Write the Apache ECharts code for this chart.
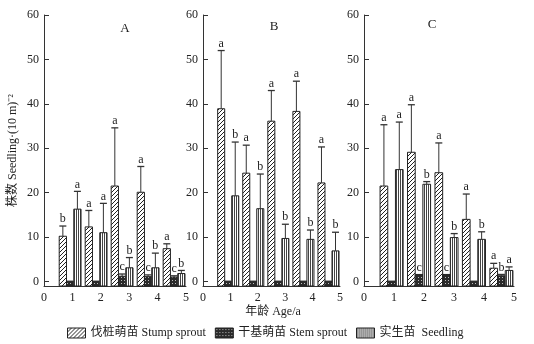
<!DOCTYPE html>
<html>
<head>
<meta charset="utf-8">
<script src="https://cdn.jsdelivr.net/npm/echarts@6/dist/echarts.min.js"></script>
<style>
  html, body { margin: 0; background: #fff; }
  #chart { width: 534px; height: 344px; }
</style>
</head>
<body>
<div id="chart"></div>
<script>
const ages = ['1', '2', '3', '4', '5']
const yTicks = [0, 10, 20, 30, 40, 50, 60]
const seriesNames = ['伐桩萌苗 Stump sprout', '干基萌苗 Stem sprout', '实生苗  Seedling']
const panelNames = ['A', 'B', 'C']

// panel A
const stumpA = [10.2, 12.3, 21.5, 20.1, 7.4]
const stumpASd = [2.3, 3.7, 13.1, 5.8, 1.1]
const stumpALetters = ['b', 'a', 'a', 'a', 'a']
const stemA = [0.1, 0.1, 1.2, 1.1, 1.0]
const stemASd = [0, 0, 0.5, 0.4, 0.3]
const stemALetters = ['', '', 'c', 'c', 'c']
const seedA = [16.3, 11.0, 3.1, 3.1, 1.8]
const seedASd = [4.0, 6.6, 2.3, 3.3, 0.7]
const seedALetters = ['a', 'a', 'b', 'b', 'b']

// panel B
const stumpB = [38.9, 24.4, 36.1, 38.3, 22.2]
const stumpBSd = [13.1, 6.3, 6.9, 6.8, 8.1]
const stumpBLetters = ['a', 'a', 'a', 'a', 'a']
const stemB = [0.1, 0.1, 0.1, 0.1, 0.1]
const stemBSd = [0, 0, 0, 0, 0]
const stemBLetters = ['', '', '', '', '']
const seedB = [19.3, 16.4, 9.7, 9.5, 6.9]
const seedBSd = [12.1, 7.8, 3.2, 2.1, 4.2]
const seedBLetters = ['b', 'b', 'b', 'b', 'b']

// panel C
const stumpC = [21.5, 29.1, 24.5, 14.0, 3.0]
const stumpCSd = [13.8, 10.7, 6.7, 5.7, 1.1]
const stumpCLetters = ['a', 'a', 'a', 'a', 'a']
const stemC = [0.1, 1.6, 1.6, 0.1, 1.3]
const stemCSd = [0, 0, 0, 0, 0.3]
const stemCLetters = ['', 'c', 'c', '', 'b']
const seedC = [25.2, 21.9, 9.9, 9.5, 2.5]
const seedCSd = [10.7, 0.6, 0.9, 1.7, 0.8]
const seedCLetters = ['a', 'b', 'b', 'b', 'a']

const panels = [
  [[stumpA, stumpASd, stumpALetters], [stemA, stemASd, stemALetters], [seedA, seedASd, seedALetters]],
  [[stumpB, stumpBSd, stumpBLetters], [stemB, stemBSd, stemBLetters], [seedB, seedBSd, seedBLetters]],
  [[stumpC, stumpCSd, stumpCLetters], [stemC, stemCSd, stemCLetters], [seedC, seedCSd, seedCLetters]],
]

const font = '"Liberation Serif", "Noto Sans CJK SC", serif'
const ink = '#222'
const yMin = -1

// layout of each panel in pixels
const panelLeft = [44, 203, 364]
const panelWidth = [142, 137, 150]
const gridTop = 15
const gridBottom = 58
// groups sit on bands from x = 0.4625 to 5.0375
const bandStart = 0.4625
const bandSpan = 4.575

function makePattern(kind) {
  const c = document.createElement('canvas')
  const ctx = c.getContext('2d')
  if (kind === 'diag') {
    c.width = 4; c.height = 4
    ctx.fillStyle = '#fff'; ctx.fillRect(0, 0, 4, 4)
    ctx.strokeStyle = ink; ctx.lineWidth = 1
    ctx.beginPath()
    ctx.moveTo(-1, 5); ctx.lineTo(5, -1)
    ctx.moveTo(-1, 1); ctx.lineTo(1, -1)
    ctx.moveTo(3, 5); ctx.lineTo(5, 3)
    ctx.stroke()
  } else if (kind === 'cross') {
    c.width = 3; c.height = 3
    ctx.fillStyle = '#2a2a2a'; ctx.fillRect(0, 0, 3, 3)
    ctx.fillStyle = '#bbb'; ctx.fillRect(1, 1, 1, 1)
  } else {
    c.width = 2; c.height = 2
    ctx.fillStyle = '#fff'; ctx.fillRect(0, 0, 2, 2)
    ctx.fillStyle = '#444'; ctx.fillRect(0, 0, 1, 2)
  }
  return { image: c, repeat: 'repeat' }
}
const patterns = [makePattern('diag'), makePattern('cross'), makePattern('vert')]

function barRenderer(s, letters) {
  return function (params, api) {
    const i = api.value(0)
    const v = api.value(1)
    const sd = api.value(2)
    const band = api.size([1, 0])[0]
    const w = band * 0.28
    const top = api.coord([i, v])
    const base = api.coord([i, yMin])
    const cx = top[0] + (s - 1) * w
    const children = [{
      type: 'rect',
      shape: { x: cx - w / 2, y: top[1], width: w, height: base[1] - top[1] },
      style: { fill: patterns[s], stroke: ink, lineWidth: 1 },
    }]
    let labelY = top[1]
    if (sd > 0) {
      const hi = api.coord([i, v + sd])
      children.push({ type: 'line', shape: { x1: cx, y1: top[1], x2: cx, y2: hi[1] }, style: { stroke: '#333', lineWidth: 1 } })
      children.push({ type: 'line', shape: { x1: cx - 3.5, y1: hi[1], x2: cx + 3.5, y2: hi[1] }, style: { stroke: '#333', lineWidth: 1.3 } })
      labelY = hi[1]
    }
    const letter = letters[params.dataIndex]
    if (letter) {
      children.push({
        type: 'text',
        style: {
          text: letter, x: cx, y: labelY - 1,
          textAlign: 'center', textVerticalAlign: 'bottom', align: 'center', verticalAlign: 'bottom',
          font: '12px ' + font, fill: ink,
        },
      })
    }
    return { type: 'group', children }
  }
}

const grid = []
const xAxis = []
const yAxis = []
const series = []

panels.forEach((panel, p) => {
  const unit = panelWidth[p] / 5
  // visible axes
  grid.push({ left: panelLeft[p], width: panelWidth[p], top: gridTop, bottom: gridBottom })
  // bar grid aligned with the group bands
  grid.push({ left: panelLeft[p] + bandStart * unit, width: bandSpan * unit, top: gridTop, bottom: gridBottom })

  xAxis.push({
    gridIndex: 2 * p, type: 'value', min: 0, max: 5, interval: 1,
    axisLine: { onZero: false, lineStyle: { color: '#333' } },
    axisTick: { show: false },
    splitLine: { show: false },
    axisLabel: { color: ink, fontFamily: font, fontSize: 12, margin: 6 },
  })
  xAxis.push({ gridIndex: 2 * p + 1, type: 'category', data: ages, show: false })

  yAxis.push({
    gridIndex: 2 * p, type: 'value', min: yMin, max: 60,
    name: p === 0 ? '株数 Seedling·(10 m)⁻²' : '',
    nameLocation: 'middle', nameGap: 25, nameMoveOverlap: false,
    nameTextStyle: { color: ink, fontFamily: font, fontSize: 12 },
    axisLine: { show: true, lineStyle: { color: '#333' } },
    axisTick: { show: true, inside: true, length: 5, customValues: yTicks, lineStyle: { color: '#333' } },
    splitLine: { show: false },
    axisLabel: { customValues: yTicks, color: ink, fontFamily: font, fontSize: 12, margin: 5 },
  })
  yAxis.push({ gridIndex: 2 * p + 1, type: 'value', min: yMin, max: 60, show: false })

  panel.forEach(([vals, sds, letters], s) => {
    series.push({
      type: 'custom',
      name: seriesNames[s],
      xAxisIndex: 2 * p + 1,
      yAxisIndex: 2 * p + 1,
      itemStyle: { color: patterns[s], borderColor: ink },
      renderItem: barRenderer(s, letters),
      data: ages.map((a, i) => [i, vals[i], sds[i]]),
    })
  })
})

const titlePos = [[125, 29], [274, 27], [432, 25]]

const chart = echarts.init(document.getElementById('chart'))
chart.setOption({
  animation: false,
  backgroundColor: '#fff',
  grid,
  xAxis,
  yAxis,
  series,
  legend: {
    left: 62,
    top: 322,
    icon: 'rect',
    itemWidth: 18,
    itemHeight: 10,
    itemGap: 9,
    textStyle: { color: ink, fontFamily: font, fontSize: 12 },
    data: seriesNames.map((n, k) => ({ name: n, itemStyle: { color: patterns[k], borderColor: ink, borderWidth: 1 } })),
  },
  graphic: [
    ...panelNames.map((t, p) => ({
      type: 'text', x: titlePos[p][0], y: titlePos[p][1],
      style: { text: t, font: '13px ' + font, fill: ink, textAlign: 'center', textVerticalAlign: 'middle', align: 'center', verticalAlign: 'middle' },
    })),
    {
      type: 'text', x: 273, y: 312,
      style: { text: '年龄 Age/a', font: '12px ' + font, fill: ink, textAlign: 'center', textVerticalAlign: 'middle', align: 'center', verticalAlign: 'middle' },
    },
  ],
})
</script>
</body>
</html>
